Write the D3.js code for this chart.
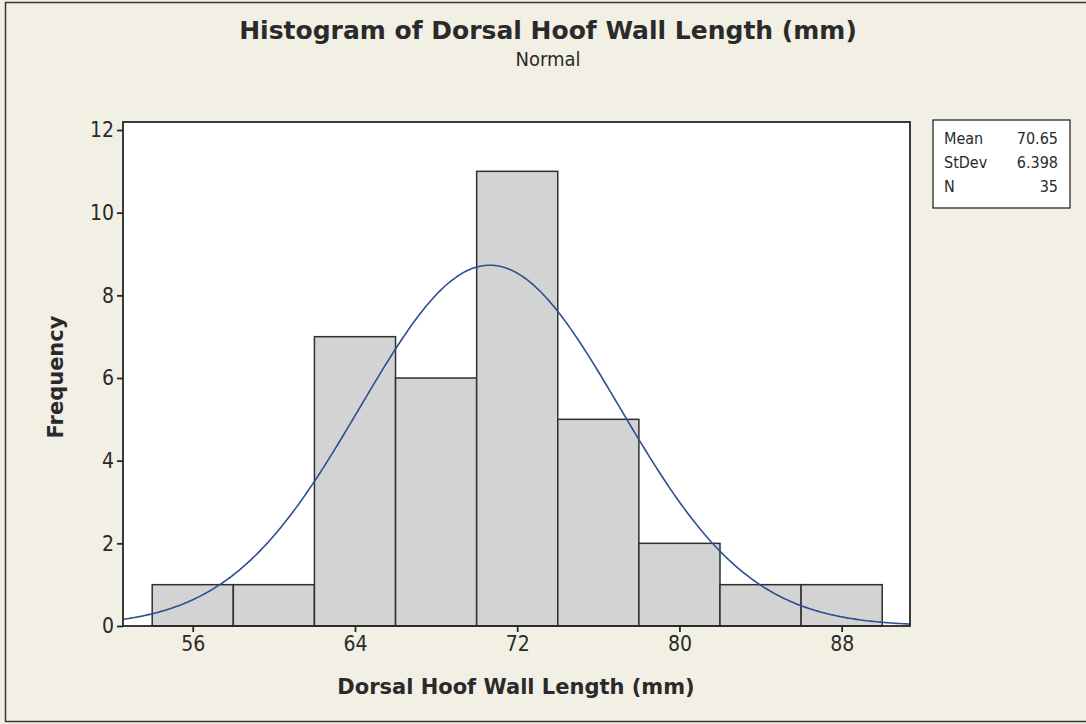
<!DOCTYPE html>
<html>
<head>
<meta charset="utf-8">
<script src="https://cdn.jsdelivr.net/npm/d3@7"></script>
<style>
html,body{margin:0;padding:0;background:#f2f0e4;}
svg{display:block;}
</style>
</head>
<body>
<svg id="chart" width="1086" height="724"></svg>
<script>
// ---- data ----
const binMids = [56, 60, 64, 68, 72, 76, 80, 84, 88];
const counts = [1, 1, 7, 6, 11, 5, 2, 1, 1];
const binWidth = 4;
const xTicks = [56, 64, 72, 80, 88];
const yTicks = [0, 2, 4, 6, 8, 10, 12];
const statLabels = ["Mean", "StDev", "N"];
const statValues = ["70.65", "6.398", "35"];
const fitMean = 70.65, fitSd = 6.398, fitN = 35;

const FONT = "'DejaVu Sans Condensed', 'DejaVu Sans', sans-serif";
const FONTW = "'DejaVu Sans', sans-serif";
const svg = d3.select("#chart");

// outer frame
svg.append("rect").attr("x", 0).attr("y", 0).attr("width", 1086).attr("height", 724).attr("fill", "#f2f0e4");
svg.append("path").attr("d", "M1086,2.5 H5.5 V721.5 H1086").attr("fill", "none").attr("stroke", "#3a3a3a").attr("stroke-width", 1.5);

const L = 123, R = 910, T = 122, B = 626;
const x = d3.scaleLinear().domain([52.56, 91.37]).range([L, R]);
const y = d3.scaleLinear().domain([0, 12]).range([B, 130]);

svg.append("rect").attr("x", L).attr("y", T).attr("width", R - L).attr("height", B - T).attr("fill", "#ffffff");

// bars
svg.append("g").selectAll("rect").data(binMids).join("rect")
  .attr("x", (d) => x(d - binWidth / 2))
  .attr("width", (d) => x(d + binWidth / 2) - x(d - binWidth / 2))
  .attr("y", (d, i) => y(counts[i]))
  .attr("height", (d, i) => y(0) - y(counts[i]))
  .attr("fill", "#d3d3d3")
  .attr("stroke", "#2f2f2f")
  .attr("stroke-width", 1.5);

// normal fit curve (from the stated Mean, StDev and N)
const xs = d3.range(0, 401).map(i => x.domain()[0] + (x.domain()[1] - x.domain()[0]) * i / 400);
const dens = (v) => fitN * binWidth * Math.exp(-0.5 * ((v - fitMean) / fitSd) ** 2) / (fitSd * Math.sqrt(2 * Math.PI));
svg.append("path")
  .attr("d", d3.line().x(d => x(d)).y(d => y(dens(d)))(xs))
  .attr("fill", "none").attr("stroke", "#2d4f8f").attr("stroke-width", 1.6);

// frame
svg.append("rect").attr("x", L).attr("y", T).attr("width", R - L).attr("height", B - T)
  .attr("fill", "none").attr("stroke", "#262626").attr("stroke-width", 1.8);

// axes
const yAxis = svg.append("g").attr("transform", `translate(${L},0)`)
  .call(d3.axisLeft(y).tickValues(yTicks).tickSize(6).tickPadding(3).tickFormat(d3.format("d")));
const xAxis = svg.append("g").attr("transform", `translate(0,${B})`)
  .call(d3.axisBottom(x).tickValues(xTicks).tickSize(6).tickPadding(4).tickFormat(d3.format("d")));
[yAxis, xAxis].forEach(g => {
  g.select(".domain").remove();
  g.selectAll("line").attr("stroke", "#262626").attr("stroke-width", 1.8);
  g.selectAll("text").attr("fill", "#2a2a2a").style("font-family", FONT).style("font-size", "21px");
});

// titles
svg.append("text").attr("x", 548).attr("y", 39).attr("text-anchor", "middle")
  .style("font-family", FONTW).style("font-weight", "bold").style("font-size", "25px").attr("fill", "#2a2a2a")
  .text("Histogram of Dorsal Hoof Wall Length (mm)");
svg.append("text").attr("x", 548).attr("y", 66).attr("text-anchor", "middle")
  .style("font-family", FONT).style("font-size", "20px").attr("fill", "#2a2a2a")
  .text("Normal");
svg.append("text").attr("x", 516).attr("y", 694).attr("text-anchor", "middle")
  .style("font-family", FONTW).style("font-weight", "bold").style("font-size", "21px").attr("fill", "#2a2a2a")
  .text("Dorsal Hoof Wall Length (mm)");
svg.append("text").attr("transform", "translate(63,377) rotate(-90)").attr("text-anchor", "middle")
  .style("font-family", FONTW).style("font-weight", "bold").style("font-size", "21px").attr("fill", "#2a2a2a")
  .text("Frequency");

// legend box
svg.append("rect").attr("x", 933).attr("y", 120).attr("width", 137).attr("height", 88)
  .attr("fill", "#ffffff").attr("stroke", "#2a2a2a").attr("stroke-width", 1.3);
const lg = svg.append("g").style("font-family", FONT).style("font-size", "16px").attr("fill", "#2a2a2a");
lg.selectAll("text.lab").data(statLabels).join("text").attr("class", "lab")
  .attr("x", 944).attr("y", (d, i) => 144 + i * 24).text(d => d);
lg.selectAll("text.val").data(statValues).join("text").attr("class", "val")
  .attr("x", 1058).attr("y", (d, i) => 144 + i * 24).attr("text-anchor", "end").text(d => d);
</script>
</body>
</html>
